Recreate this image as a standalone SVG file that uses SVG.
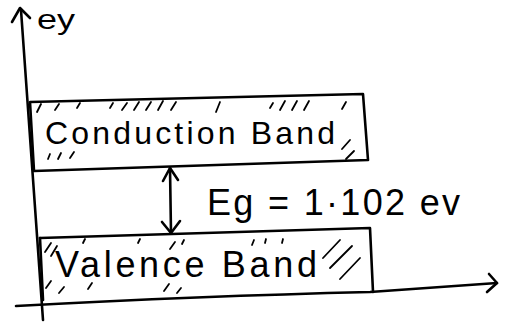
<svg xmlns="http://www.w3.org/2000/svg" width="507" height="322" viewBox="0 0 507 322">
<style>
.ln{fill:none;stroke:#000;stroke-width:2.6;stroke-linecap:round;stroke-linejoin:round}
.ht{fill:none;stroke:#000;stroke-width:1.8;stroke-linecap:round}
.tx{font-family:"Liberation Sans","DejaVu Sans",sans-serif;fill:#000}
</style>
<rect width="507" height="322" fill="#fff"/>
<g id="axes">
<path class="ln" d="M21 10 L43 320"/>
<path class="ln" d="M12 22 L20 8 L30 18"/>
<path class="ln" d="M16 306 Q200 296 370 292 L497 283"/>
<path class="ln" d="M489 274 L497 283 L487 292"/>
<text class="tx" x="37" y="29" font-size="28" textLength="38" lengthAdjust="spacingAndGlyphs">ey</text>
</g>
<g id="conduction-band">
<path class="ln" d="M30 102 L363 94 L368 160 L34 171 Z"/>
<g class="ht">
<path d="M37 112 L41 104"/><path d="M55 110 L59 104"/><path d="M77 108 L80 103"/>
<path d="M110 108 L113 103"/><path d="M122 110 L127 103"/><path d="M134 110 L139 102"/><path d="M146 110 L151 102"/><path d="M158 110 L163 101"/><path d="M171 110 L176 102"/>
<path d="M216 112 L220 102"/>
<path d="M270 108 L273 103"/><path d="M280 110 L285 101"/><path d="M292 110 L297 101"/><path d="M304 110 L309 101"/><path d="M342 109 L346 102"/>
<path d="M48 159 L50 154"/><path d="M58 159 L61 153"/><path d="M70 158 L74 152"/>
<path d="M342 149 L350 140"/><path d="M346 159 L354 151"/>
</g>
<text class="tx" x="45" y="144" font-size="32" textLength="290" lengthAdjust="spacing">Conduction Band</text>
</g>
<g id="valence-band">
<path class="ln" d="M40 238 L370 228 L373 292"/>
<path class="ln" d="M40 238 L43 300"/>
<g class="ht">
<path d="M45 252 L51 243"/><path d="M51 256 L57 246"/>
<path d="M83 243 L85 239"/><path d="M138 243 L140 239"/><path d="M170 249 L175 242"/><path d="M182 244 L184 240"/>
<path d="M252 245 L254 240"/><path d="M265 243 L266 239"/><path d="M282 243 L283 239"/>
<path d="M323 258 L340 240"/><path d="M330 268 L352 246"/><path d="M340 279 L360 258"/>
<path d="M46 288 L51 281"/><path d="M59 293 L64 287"/><path d="M88 289 L92 283"/>
<path d="M164 291 L169 284"/><path d="M177 293 L181 288"/>
</g>
<text class="tx" x="55" y="277" font-size="36" textLength="262" lengthAdjust="spacing">Valence Band</text>
</g>
<g id="connectors">
<path class="ln" d="M170 168 L171 233"/>
<path class="ln" d="M163 181 L170 168 L178 180"/>
<path class="ln" d="M162 222 L171 233 L180 221"/>
</g>
<g id="band-gap">
<text class="tx" x="207" y="215" font-size="36" textLength="253" lengthAdjust="spacing">Eg = 1·102 ev</text>
</g>
</svg>
